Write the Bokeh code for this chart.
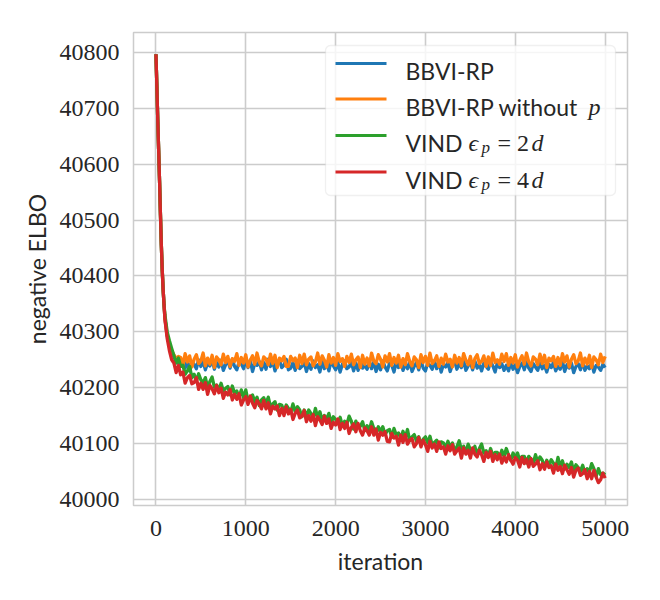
from bokeh.plotting import figure
from bokeh.models import Range1d, FixedTicker, BoxAnnotation, Label, NumeralTickFormatter
from bokeh.embed import file_html
from bokeh.resources import INLINE

# ---------------- data ----------------
iterations = list(range(0, 100, 10)) + list(range(100, 5001, 25))

decay_start = [40797, 40740, 40680, 40625, 40570, 40510, 40455, 40410, 40375, 40348]

bbvi_rp = decay_start + [
    40324, 40293, 40276, 40264, 40255, 40248, 40244, 40249,
    40245, 40235, 40249, 40230, 40246, 40242, 40234, 40250, 40238, 40247, 40232, 40244,
    40239, 40251, 40233, 40245, 40237, 40249, 40231, 40241, 40248, 40235, 40251, 40238,
    40232, 40246, 40243, 40234, 40250, 40236, 40249, 40229, 40244, 40240, 40247, 40232,
    40245, 40233, 40251, 40238, 40248, 40230, 40243, 40250, 40236, 40240, 40251, 40232,
    40235, 40245, 40231, 40249, 40234, 40238, 40246, 40229, 40243, 40233, 40248, 40236,
    40241, 40228, 40247, 40234, 40244, 40230, 40249, 40239, 40232, 40245, 40228, 40242,
    40248, 40234, 40237, 40246, 40230, 40244, 40231, 40249, 40235, 40240, 40233, 40247,
    40234, 40246, 40229, 40242, 40232, 40248, 40237, 40230, 40244, 40240, 40228, 40247,
    40236, 40248, 40231, 40243, 40234, 40247, 40229, 40238, 40245, 40232, 40249, 40235,
    40230, 40244, 40240, 40233, 40248, 40234, 40246, 40228, 40242, 40237, 40245, 40229,
    40241, 40247, 40233, 40243, 40236, 40249, 40231, 40239, 40246, 40232, 40248, 40235,
    40242, 40230, 40244, 40238, 40233, 40247, 40239, 40228, 40245, 40236, 40243, 40231,
    40240, 40230, 40245, 40233, 40241, 40227, 40238, 40244, 40232, 40247, 40235, 40229,
    40243, 40237, 40231, 40246, 40234, 40240, 40228, 40242, 40236, 40245, 40230, 40239,
    40233, 40247, 40229, 40241, 40235, 40244, 40227, 40238, 40243, 40232, 40246, 40231,
    40239, 40234, 40245, 40228, 40240, 40237, 40231, 40242,
    40236,
]

bbvi_rp_without_p = decay_start + [
    40324, 40294, 40277, 40266, 40259, 40252, 40256,
    40254, 40240, 40261, 40246, 40257, 40237, 40251, 40259, 40243, 40248, 40262, 40239,
    40253, 40242, 40258, 40236, 40255, 40250, 40241, 40260, 40245, 40256, 40238, 40252,
    40247, 40261, 40240, 40254, 40244, 40259, 40237, 40249, 40257, 40242, 40262, 40246,
    40239, 40255, 40251, 40241, 40260, 40243, 40258, 40236, 40253, 40248, 40256, 40238,
    40238, 40256, 40248, 40253, 40236, 40258, 40243, 40260, 40241, 40251, 40255, 40239,
    40246, 40262, 40242, 40257, 40249, 40237, 40259, 40244, 40254, 40240, 40261, 40247,
    40252, 40238, 40256, 40245, 40260, 40241, 40250, 40255, 40236, 40258, 40242, 40253,
    40239, 40262, 40248, 40243, 40259, 40251, 40237, 40257, 40246, 40261, 40240, 40254,
    40244, 40258, 40237, 40252, 40241, 40261, 40247, 40239, 40255, 40250, 40236, 40259,
    40245, 40256, 40240, 40262, 40243, 40248, 40257, 40238, 40253, 40242, 40260, 40246,
    40251, 40237, 40258, 40244, 40254, 40239, 40261, 40249, 40241, 40256, 40236, 40252,
    40259, 40243, 40247, 40257, 40238, 40255, 40240, 40262, 40245, 40250, 40242, 40260,
    40247, 40261, 40240, 40254, 40244, 40259, 40237, 40249, 40257, 40242, 40262, 40246,
    40239, 40255, 40251, 40241, 40260, 40243, 40258, 40236, 40253, 40248, 40256, 40238,
    40254, 40240, 40261, 40246, 40257, 40237, 40251, 40259, 40243, 40248, 40262, 40239,
    40253, 40242, 40258, 40236, 40255, 40250, 40241, 40260, 40245, 40256,
]

vind_2d = decay_start + [
    40330, 40300, 40284, 40270,
    40257, 40244, 40253, 40238,
    40240, 40224, 40230, 40238,
    40218, 40224, 40212, 40225,
    40214, 40209, 40218, 40201,
    40211, 40219, 40201, 40205,
    40195, 40208, 40194, 40199,
    40202, 40187, 40203, 40190,
    40194, 40183, 40196, 40182,
    40196, 40176, 40183, 40187,
    40175, 40183, 40168, 40178,
    40182, 40171, 40183, 40166,
    40171, 40175, 40160, 40170,
    40169, 40157, 40169, 40163,
    40156, 40171, 40157, 40166,
    40160, 40148, 40160, 40150,
    40160, 40154, 40145, 40163,
    40146, 40157, 40142, 40150,
    40144, 40154, 40136, 40148,
    40143, 40136, 40147, 40132,
    40140, 40134, 40149, 40140,
    40126, 40140, 40129, 40131,
    40139, 40123, 40132, 40124,
    40139, 40127, 40118, 40130,
    40121, 40130, 40116, 40123,
    40125, 40111, 40127, 40115,
    40119, 40109, 40122, 40110,
    40125, 40105, 40112, 40116,
    40104, 40112, 40098, 40108,
    40112, 40101, 40113, 40097,
    40102, 40106, 40092, 40103,
    40101, 40092, 40104, 40094,
    40101, 40087, 40094, 40105,
    40088, 40095, 40084, 40099,
    40089, 40085, 40095, 40079,
    40091, 40099, 40083, 40087,
    40078, 40091, 40078, 40084,
    40084, 40075, 40088, 40077,
    40091, 40079, 40070, 40083,
    40074, 40083, 40069, 40077,
    40077, 40065, 40077, 40072,
    40065, 40080, 40066, 40076,
    40070, 40058, 40070, 40061,
    40071, 40065, 40056, 40075,
    40058, 40069, 40054, 40063,
    40057, 40067, 40049, 40062,
    40057, 40050, 40061, 40047,
    40055, 40049, 40064, 40055,
    40041, 40055, 40044, 40047,
    40044,
]

vind_4d = decay_start + [
    40322, 40288, 40266, 40250,
    40244, 40227, 40240, 40223,
    40228, 40208, 40218, 40222,
    40207, 40209, 40218, 40197,
    40208, 40197, 40209, 40188,
    40204, 40198, 40189, 40204,
    40191, 40199, 40181, 40192,
    40187, 40197, 40178, 40188,
    40179, 40189, 40169, 40178,
    40184, 40170, 40185, 40172,
    40164, 40177, 40171, 40162,
    40177, 40162, 40173, 40153,
    40167, 40162, 40167, 40150,
    40163, 40150, 40166, 40153,
    40161, 40143, 40154, 40160,
    40146, 40149, 40159, 40139,
    40150, 40140, 40152, 40132,
    40148, 40142, 40134, 40149,
    40136, 40144, 40127, 40138,
    40133, 40144, 40125, 40136,
    40127, 40138, 40118, 40129,
    40135, 40121, 40136, 40123,
    40115, 40128, 40123, 40115,
    40130, 40115, 40126, 40106,
    40120, 40115, 40121, 40104,
    40103, 40118, 40110, 40113,
    40097, 40115, 40102, 40116,
    40099, 40106, 40109, 40094,
    40100, 40111, 40094, 40106,
    40098, 40086, 40104, 40092,
    40099, 40086, 40103, 40091,
    40094, 40081, 40096, 40087,
    40098, 40081, 40087, 40092,
    40074, 40092, 40081, 40088,
    40074, 40092, 40081, 40076,
    40088, 40080, 40068, 40084,
    40075, 40086, 40068, 40080,
    40071, 40081, 40065, 40076,
    40067, 40080, 40070, 40063,
    40075, 40070, 40058, 40075,
    40064, 40072, 40058, 40073,
    40059, 40063, 40069, 40053,
    40064, 40054, 40067, 40057,
    40060, 40047, 40063, 40052,
    40059, 40046, 40061, 40053,
    40045, 40057, 40040, 40052,
    40056, 40043, 40046, 40053,
    40037, 40050, 40037, 40052,
    40040, 40030, 40035, 40047,
    40038,
]

series_values = [bbvi_rp, bbvi_rp_without_p, vind_2d, vind_4d]
series_colors = ["#1f77b4", "#ff7f0e", "#2ca02c", "#d62728"]

x_ticks = [0, 1000, 2000, 3000, 4000, 5000]
y_ticks = [40000, 40100, 40200, 40300, 40400, 40500, 40600, 40700, 40800]

for vals in series_values:
    assert len(vals) == len(iterations), (len(vals), len(iterations))

# ---------------- layout ----------------
X0, X1 = -250, 5249
Y0, Y1 = 39989, 40836
L, R, T, B = 133, 627, 32, 505
W_PX, H_PX = 660, 600

def px2x(px):
    return X0 + (px - L) / (R - L) * (X1 - X0)

def py2y(py):
    return Y1 - (py - T) / (B - T) * (Y1 - Y0)

TXT = "#262626"
GRID = "#cccccc"
SERIF = "Liberation Serif, DejaVu Serif, serif"

p = figure(width=W_PX, height=H_PX, output_backend="svg", toolbar_location=None,
           x_range=Range1d(X0, X1), y_range=Range1d(Y0, Y1),
           min_border_left=L, min_border_right=W_PX - R,
           min_border_top=T, min_border_bottom=H_PX - B)

p.background_fill_color = "white"
p.border_fill_color = "white"
p.outline_line_color = GRID
p.outline_line_width = 1.5

for g in (p.xgrid, p.ygrid):
    g.grid_line_color = GRID
    g.grid_line_width = 1.6

p.xaxis.ticker = FixedTicker(ticks=x_ticks)
p.yaxis.ticker = FixedTicker(ticks=y_ticks)
p.xgrid.ticker = FixedTicker(ticks=x_ticks)
p.ygrid.ticker = FixedTicker(ticks=y_ticks)
p.yaxis.formatter = NumeralTickFormatter(format="0")
p.xaxis.formatter = NumeralTickFormatter(format="0")

for ax in list(p.xaxis) + list(p.yaxis):
    ax.axis_line_color = None
    ax.major_tick_line_color = None
    ax.minor_tick_line_color = None
    ax.major_tick_out = 0
    ax.major_tick_in = 0
    ax.major_label_text_font = SERIF
    ax.major_label_text_font_size = "24px"
    ax.major_label_text_color = TXT
    ax.axis_label_text_font = "Lato"
    ax.axis_label_text_font_size = "23px"
    ax.axis_label_text_font_style = "normal"
    ax.axis_label_text_color = TXT

p.xaxis.axis_label = "iteration"
p.yaxis.axis_label = "negative ELBO"
p.xaxis.major_label_standoff = 15
p.yaxis.major_label_standoff = 14
p.xaxis.axis_label_standoff = 8
p.yaxis.axis_label_standoff = 6

for vals, col in zip(series_values, series_colors):
    p.line(iterations, vals, line_color=col, line_width=3.3, line_join="round")

# ---------------- legend (drawn by hand to allow math text) ----------------
p.add_layout(BoxAnnotation(left=px2x(325), right=px2x(615), top=py2y(45), bottom=py2y(195),
                           fill_color="white", fill_alpha=0.8,
                           line_color=GRID, line_width=1.3, border_radius=5))

rows = [63, 98.5, 135, 171.5]
sans_texts = ["BBVI-RP", "BBVI-RP without", "VIND", "VIND"]
for row, col, txt in zip(rows, series_colors, sans_texts):
    p.add_layout(BoxAnnotation(left=px2x(335), right=px2x(386),
                               top=py2y(row - 1.5), bottom=py2y(row + 1.5),
                               fill_color=col, fill_alpha=1.0, line_alpha=0))
    p.add_layout(Label(x=px2x(405), y=py2y(row + 7.5), text=txt,
                       text_font="Lato", text_font_size="23px", text_color=TXT,
                       text_baseline="alphabetic", text_align="left"))

def math_label(px, py, txt, italic=True, size="24px"):
    p.add_layout(Label(x=px2x(px), y=py2y(py), text=txt,
                       text_font=SERIF, text_font_size=size,
                       text_font_style="italic" if italic else "normal",
                       text_color=TXT, text_baseline="alphabetic", text_align="left"))

math_label(588, rows[1] + 7.5, "p")
for row, k in ((rows[2], "2"), (rows[3], "4")):
    math_label(468, row + 7.5, "\u03f5")
    math_label(481, row + 12, "p", size="17px")
    math_label(497, row + 7.5, "= " + k, italic=False)
    math_label(531, row + 7.5, "d")

open("out.html", "w").write(file_html(p, INLINE))
